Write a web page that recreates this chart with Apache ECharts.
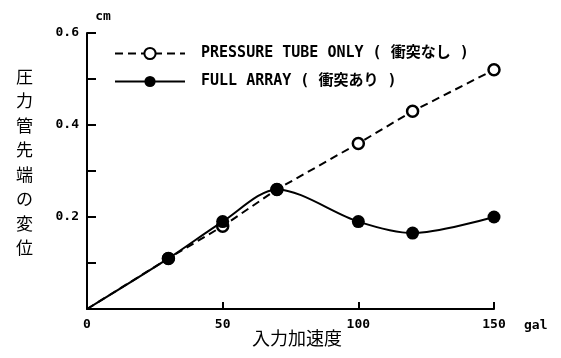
<!DOCTYPE html>
<html><head><meta charset="utf-8">
<script src="https://cdn.jsdelivr.net/npm/echarts@6/dist/echarts.min.js"></script>
<style>html,body{margin:0;padding:0;background:#fff}#c{width:561px;height:358px}</style>
</head><body><div id="c"></div>
<script>
const xValues = [0, 30, 50, 70, 100, 120, 150];
const pressureTubeOnly = [0, 0.11, 0.18, 0.26, 0.36, 0.43, 0.52];
const fullArray = [0, 0.11, 0.19, 0.26, 0.19, 0.165, 0.20];
const xTicks = [0, 50, 100, 150];
const yTickLabels = [0.2, 0.4, 0.6];
const seriesNames = ['PRESSURE TUBE ONLY ( 衝突なし )', 'FULL ARRAY ( 衝突あり )'];
const yTitle = '圧力管先端の変位';
const xTitle = '入力加速度';

const mono = '"DejaVu Sans Mono", monospace';
const cjk = '"Noto Sans CJK JP", sans-serif';
const chart = echarts.init(document.getElementById('c'), null, {renderer: 'canvas'});
function pts(vals) {
  return xValues.map((x, i) => i === 0 ? {value: [x, vals[i]], symbol: 'none'} : [x, vals[i]]);
}
chart.setOption({
  animation: false,
  backgroundColor: '#fff',
  grid: {left: 87, right: 67, top: 33, bottom: 49},
  legend: {
    orient: 'vertical', left: 109, top: 41, itemWidth: 70, itemHeight: 14, itemGap: 13,
    textStyle: {fontFamily: mono + ',' + cjk, fontWeight: 'bold', fontSize: 15, lineHeight: 14, color: '#000', padding: [0, 0, 0, 11]},
    data: seriesNames
  },
  xAxis: {
    type: 'value', min: 0, max: 150, interval: 50,
    name: 'gal', nameLocation: 'end', nameGap: 30,
    nameTextStyle: {fontFamily: mono, fontWeight: 'bold', fontSize: 13, color: '#000', verticalAlign: 'top', padding: [10, 0, 0, 0]},
    axisLine: {lineStyle: {color: '#000', width: 2}},
    axisTick: {inside: true, length: 7, lineStyle: {color: '#000', width: 2}},
    axisLabel: {fontFamily: mono, fontWeight: 'bold', fontSize: 13, color: '#000', margin: 9,
      formatter: v => xTicks.includes(v) ? String(v) : ''},
    splitLine: {show: false}
  },
  yAxis: {
    type: 'value', min: 0, max: 0.6, interval: 0.1,
    name: 'cm', nameLocation: 'end', nameGap: 10,
    nameTextStyle: {fontFamily: mono, fontWeight: 'bold', fontSize: 13, color: '#000', padding: [0, 0, 0, 32]},
    axisLine: {lineStyle: {color: '#000', width: 2}},
    axisTick: {inside: true, length: 9, lineStyle: {color: '#000', width: 2}},
    axisLabel: {fontFamily: mono, fontWeight: 'bold', fontSize: 13, color: '#000', margin: 8,
      formatter: v => yTickLabels.some(t => Math.abs(t - v) < 1e-6) ? v.toFixed(1) : ''},
    splitLine: {show: false}
  },
  graphic: [
    {type: 'text', left: 16, top: 64, style: {text: yTitle.split('').join('\n'), font: '17px ' + cjk, fill: '#000', lineHeight: 24.5}},
    {type: 'text', left: 252, top: 329, style: {text: xTitle, font: '18px ' + cjk, fill: '#000'}}
  ],
  series: [
    {name: seriesNames[0], type: 'line', data: pts(pressureTubeOnly), symbol: 'circle', symbolSize: 11,
      lineStyle: {color: '#000', width: 2, type: [8, 5]},
      itemStyle: {color: '#fff', borderColor: '#000', borderWidth: 2.5}},
    {name: seriesNames[1], type: 'line', data: pts(fullArray), symbol: 'circle', symbolSize: 13, smooth: 0.3,
      lineStyle: {color: '#000', width: 2},
      itemStyle: {color: '#000', borderColor: '#000', borderWidth: 0}}
  ]
});
</script></body></html>
